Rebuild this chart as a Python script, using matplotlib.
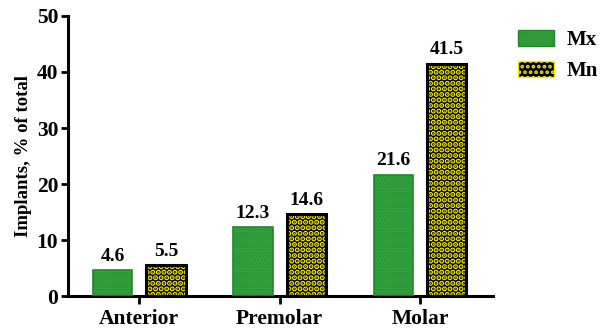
import matplotlib
matplotlib.use("Agg")
import matplotlib.pyplot as plt
import numpy as np
from matplotlib.patches import Patch

categories = ["Anterior", "Premolar", "Molar"]
series_names = ["Mx", "Mn"]
mx_values = [4.6, 12.3, 21.6]
mn_values = [5.5, 14.6, 41.5]
y_ticks = [0, 10, 20, 30, 40, 50]
y_label = "Implants, % of total"

plt.rcParams['font.family'] = ['Liberation Serif', 'DejaVu Serif']
plt.rcParams['font.weight'] = 'bold'
plt.rcParams['hatch.linewidth'] = 1.8

fig = plt.figure(figsize=(6.05, 3.33), dpi=100)
ax = fig.add_axes([0.1124, 0.111, 0.815 - 0.1124, 0.952 - 0.111])

x = np.arange(len(categories))
w = 0.28
off = 0.19

green = '#3db54a'
dkgreen = '#23862c'
yellow = '#f5ea00'

# Mx bars
ax.bar(x - off, mx_values, w, color=green, edgecolor=dkgreen, hatch='.....', linewidth=0, zorder=2)
ax.bar(x - off, mx_values, w, color='none', edgecolor=dkgreen, linewidth=1.2, zorder=3)
# Mn bars
with plt.rc_context({'hatch.linewidth': 2.7}):
    ax.bar(x + off, mn_values, w, color='black', edgecolor=yellow, hatch='...', linewidth=0, zorder=2)
    mn_handle = Patch(facecolor='black', edgecolor=yellow, hatch='...', linewidth=1.0, label=series_names[1])
ax.bar(x + off, mn_values, w, color='none', edgecolor='black', linewidth=2.2, zorder=3)

for xi, v in zip(x - off, mx_values):
    ax.text(xi, v + 1.0, f"{v}", ha='center', va='bottom', fontsize=14, fontweight='bold')
for xi, v in zip(x + off, mn_values):
    ax.text(xi, v + 1.0, f"{v}", ha='center', va='bottom', fontsize=14, fontweight='bold')

ax.set_xlim(-0.507, 2.52)
ax.set_ylim(0, 50)
ax.set_yticks(y_ticks)
ax.set_xticks(x)
ax.set_xticklabels(categories, fontsize=15.5, fontweight='bold')
ax.tick_params(axis='y', labelsize=15.5, width=2, length=5, direction='out', pad=2)
ax.tick_params(axis='x', width=2, length=6, direction='out', pad=3)
for lab in ax.get_yticklabels():
    lab.set_fontweight('bold')
ax.spines['top'].set_visible(False)
ax.spines['right'].set_visible(False)
ax.spines['left'].set_linewidth(2.2)
ax.spines['bottom'].set_linewidth(2.2)
ax.set_ylabel(y_label, fontsize=13.5, fontweight='bold', labelpad=3)

handles = [
    Patch(facecolor=green, edgecolor=dkgreen, hatch='.....', linewidth=1.0, label=series_names[0]),
    mn_handle,
]
leg = fig.legend(handles=handles, loc='upper left', bbox_to_anchor=(0.856, 0.91),
                 frameon=False, fontsize=15, handlelength=1.73, handleheight=0.8,
                 labelspacing=0.5, handletextpad=0.6, borderaxespad=0, borderpad=0)
for t in leg.get_texts():
    t.set_fontweight('bold')

fig.savefig("out.png", dpi=100)
